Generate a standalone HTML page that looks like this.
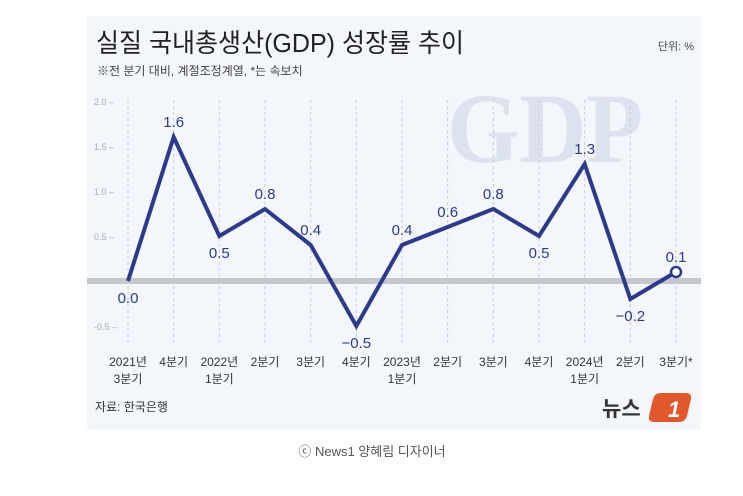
<!DOCTYPE html>
<html><head><meta charset="utf-8"><style>
body{margin:0;background:#fff;width:743px;height:496px;overflow:hidden;font-family:"Liberation Sans","Noto Sans CJK KR",sans-serif}
</style></head><body>
<svg width="743" height="496" style="position:absolute;left:0;top:0">
<rect x="87" y="16" width="614" height="414" fill="#f3f6fb"/>
<text x="447" y="162" font-family="Liberation Serif,serif" font-weight="bold" font-size="100" fill="#dde3ee" textLength="196" lengthAdjust="spacingAndGlyphs">GDP</text>
<text x="96" y="52" font-size="26" fill="#222" textLength="368" lengthAdjust="spacingAndGlyphs" font-family="Liberation Sans,Noto Sans CJK KR,sans-serif">실질 국내총생산(GDP) 성장률 추이</text>
<text x="97" y="75" font-size="12" fill="#444">※전 분기 대비, 계절조정계열, *는 속보치</text>
<text x="694" y="50" font-size="11" fill="#444" text-anchor="end">단위: %</text>
<g id="grid"></g>
<rect x="87" y="278" width="614" height="6" fill="#c4c7cc"/>
<g id="yt"></g>
<g id="marks"></g>
<g id="xl"></g>
<text x="95" y="411" font-size="12" fill="#333">자료: 한국은행</text>
<text x="602" y="416" font-size="21" font-weight="bold" fill="#333">뉴스</text>
<path d="M660 393 h26 q6 0 5 6 l-4 17 q-2 6 -8 6 h-25 q-6 0 -5 -6 l4 -17 q2 -6 7 -6z" fill="#e2582e"/>
<text x="668" y="417" font-size="22" font-weight="bold" font-style="italic" fill="#fff">1</text>
<text x="372" y="456" font-size="13" fill="#555" text-anchor="middle">ⓒ News1 양혜림 디자이너</text>
</svg>
<script>
const categories=[["2021년","3분기"],["4분기"],["2022년","1분기"],["2분기"],["3분기"],["4분기"],["2023년","1분기"],["2분기"],["3분기"],["4분기"],["2024년","1분기"],["2분기"],["3분기*"]];
const values=[0.0,1.6,0.5,0.8,0.4,-0.5,0.4,0.6,0.8,0.5,1.3,-0.2,0.1];
const valueLabels=["0.0","1.6","0.5","0.8","0.4","−0.5","0.4","0.6","0.8","0.5","1.3","−0.2","0.1"];
const yTicks=[2.0,1.5,1.0,0.5,-0.5];
const yTickLabels=["2.0","1.5","1.0","0.5","-0.5"];
const NS="http://www.w3.org/2000/svg";
const X=i=>128+i*(676-128)/(categories.length-1);
const Y=v=>281-v*90;
function mk(t,a,p,txt){const e=document.createElementNS(NS,t);for(const k in a)e.setAttribute(k,a[k]);if(txt!==undefined)e.textContent=txt;document.getElementById(p).appendChild(e);return e;}
yTicks.forEach((v,i)=>{
 const t=mk("text",{x:94,y:Y(v)+4,"font-size":9,fill:"#aab"},"yt",yTickLabels[i]+" –");
 
 
});
categories.forEach((c,i)=>{
 const g=mk("line",{x1:X(i),x2:X(i),y1:100,y2:345,stroke:"#c8ccd4","stroke-dasharray":"3,3"},"grid");
 
 
 c.forEach((s,j)=>{
  const t=mk("text",{x:X(i),y:366+j*17,"font-size":12,fill:"#333","text-anchor":"middle"},"xl",s);
  
  
 });
});
const pl=mk("polyline",{points:values.map((v,i)=>X(i)+","+Y(v)).join(" "),fill:"none",stroke:"#2d3a8a","stroke-width":4,"stroke-linejoin":"miter"},"marks");


const last=values.length-1;
const dot=mk("circle",{cx:X(last),cy:Y(values[last]),r:5,fill:"#fff",stroke:"#2d3a8a","stroke-width":2.5},"marks");


values.forEach((v,i)=>{
 const prev=i>0?values[i-1]:v, next=i<last?values[i+1]:v;
 const below=(v<prev&&v<next)||i===0;
 const y=below?Y(v)+22:Y(v)-10;
 const t=mk("text",{x:X(i),y:y,"font-size":15,fill:"#2d3a8a","text-anchor":"middle"},"marks",valueLabels[i]);
 
 
});
</script>
</body></html>
